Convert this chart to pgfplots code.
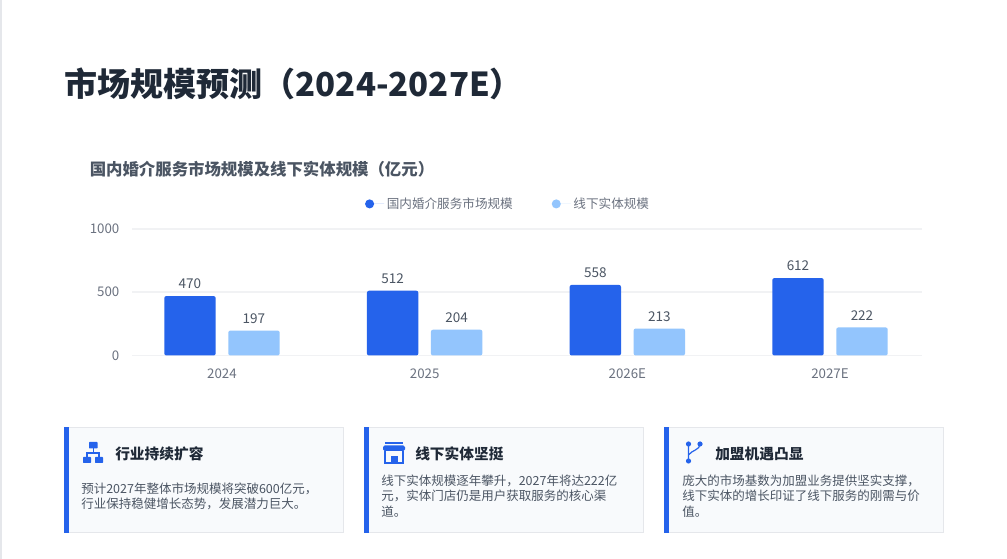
\documentclass[border=0pt]{standalone}
\usepackage{pgfplots}
\usepackage{pgfplotstable}
\pgfplotsset{compat=1.18}
\usepackage{fontspec}
\setmainfont{Noto Sans CJK SC}
\definecolor{blueA}{HTML}{2563EB}
\definecolor{blueB}{HTML}{93C5FD}
\definecolor{gridc}{HTML}{F1F2F4}
\definecolor{cardb}{HTML}{E5E7EB}
\definecolor{cardf}{HTML}{F8FAFC}
\definecolor{ink}{HTML}{1F2937}
\definecolor{mid}{HTML}{4B5563}
\definecolor{soft}{HTML}{6B7280}
\newcommand\sz[1]{\fontsize{\fpeval{#1*0.75}pt}{\fpeval{#1*0.9}pt}\selectfont}
\pgfplotstableread{
x total
0 470
1 512
2 558
3 612
}\markettable
\pgfplotstableread{
x offline
0 197
1 204
2 213
3 222
}\offlinetable
\begin{document}
\begin{tikzpicture}
\begin{scope}[x=0.75pt,y=-0.75pt]
\path[use as bounding box,fill=white] (0,0) rectangle (1007,559);
\fill[cardb] (0,0) rectangle (1.5,559);
\node[anchor=base west,inner sep=0,text=ink] at (64.5,97) {\sz{33}\bfseries 市场规模预测（2024-2027E）};
\node[anchor=base west,inner sep=0,text=mid] at (89.5,175.5) {\sz{16.4}\bfseries 国内婚介服务市场规模及线下实体规模（亿元）};
\end{scope}
\begin{axis}[
  at={(99pt,-266.625pt)},anchor=south west,
  scale only axis,width=592.5pt,height=94.9pt,
  xmin=-0.444,xmax=3.454,ymin=0,ymax=1000,
  clip=false,
  axis line style={draw=none},
  major tick length=0pt,
  ymajorgrids,
  grid style={gridc,line width=1.1pt},
  xtick={0,1,2,3},
  xticklabels={2024,2025,2026E,2027E},
  ytick={0,500,1000},
  tick label style={text=soft,font=\sz{13.3}},
  /pgf/number format/assume math mode=true,
  /pgf/number format/fixed,
  /pgf/number format/1000 sep={},
  xticklabel style={yshift=-6.5pt},
  yticklabel style={xshift=-6pt},
  legend columns=2,
  legend style={at={(0.2947,1.198)},anchor=west,draw=none,fill=none,inner sep=0pt,
    font=\sz{12.6},text=soft,
    /tikz/every even column/.style={column sep=27.2pt},
    cells={anchor=west}},
  legend image code/.code={\fill[#1,draw=none] (0pt,0pt) circle (3.4pt);\path (0pt,0pt) -- (10.9pt,0pt);},
]
\addplot[ybar,bar width=38.6pt,bar shift=-24pt,fill=blueA,draw=none,rounded corners=1.6pt,
  nodes near coords,
  every node near coord/.append style={font=\sz{13.5},text=mid,xshift=-24pt,yshift=1.7pt,rounded corners=0pt,
    /pgf/number format/assume math mode=true}] table[x=x,y=total]{\markettable};
\addlegendentry{国内婚介服务市场规模}
\addplot[ybar,bar width=38.6pt,bar shift=24pt,fill=blueB,draw=none,rounded corners=1.6pt,
  nodes near coords,
  every node near coord/.append style={font=\sz{13.5},text=mid,xshift=24pt,yshift=1.7pt,rounded corners=0pt,
    /pgf/number format/assume math mode=true}] table[x=x,y=offline]{\offlinetable};
\addlegendentry{线下实体规模}
\end{axis}
\begin{scope}[x=0.75pt,y=-0.75pt]
% cards
\foreach \cx in {64,364,664}{
  \filldraw[fill=cardf,draw=cardb,line width=0.75pt] (\cx,427.5) rectangle (\cx+279.5,532.5);
  \fill[blueA] (\cx,427) rectangle (\cx+4.5,533);
}
% card 1
\fill[blueA,rounded corners=0.5pt] (89,442) rectangle (97.5,448.5);
\fill[blueA,rounded corners=0.5pt] (83,457) rectangle (91,463);
\fill[blueA,rounded corners=0.5pt] (95,457) rectangle (103,463);
\draw[blueA,line width=0.9pt] (93.2,448) -- (93.2,453) (87,457) -- (87,453) -- (99,453) -- (99,457);
\node[anchor=base west,inner sep=0,text=ink] at (115,459.5) {\sz{14.7}\bfseries 行业持续扩容};
\node[anchor=base west,inner sep=0,text=mid] at (81,493.5) {\sz{12.5}预计2027年整体市场规模将突破600亿元，};
\node[anchor=base west,inner sep=0,text=mid] at (81,508.5) {\sz{12.5}行业保持稳健增长态势，发展潜力巨大。};
% card 2
\draw[blueA,line width=0.9pt,rounded corners=1pt] (385,443) -- (403,443);
\fill[blueA,rounded corners=1.2pt] (383,445.5) rectangle (405,451);
\draw[blueA,line width=0.9pt] (385,451) -- (385,463) -- (403,463) -- (403,451);
\fill[blueA] (391,456) rectangle (397.5,463);
\node[anchor=base west,inner sep=0,text=ink] at (415,459.5) {\sz{14.7}\bfseries 线下实体坚挺};
\node[anchor=base west,inner sep=0,text=mid] at (381,486) {\sz{12.5}线下实体规模逐年攀升，2027年将达222亿};
\node[anchor=base west,inner sep=0,text=mid] at (381,501) {\sz{12.5}元，实体门店仍是用户获取服务的核心渠};
\node[anchor=base west,inner sep=0,text=mid] at (381,516) {\sz{12.5}道。};
% card 3
\draw[blueA,line width=0.9pt] (688.5,444) -- (688.5,461) (700,444) .. controls (700,450) and (692,450) .. (688.5,455);
\fill[blueA] (688.5,444) circle (2.6) (700,444) circle (2.6) (688.5,461) circle (2.6);
\node[anchor=base west,inner sep=0,text=ink] at (715,459.5) {\sz{14.7}\bfseries 加盟机遇凸显};
\node[anchor=base west,inner sep=0,text=mid] at (682,486) {\sz{12.5}庞大的市场基数为加盟业务提供坚实支撑，};
\node[anchor=base west,inner sep=0,text=mid] at (682,501) {\sz{12.5}线下实体的增长印证了线下服务的刚需与价};
\node[anchor=base west,inner sep=0,text=mid] at (682,516) {\sz{12.5}值。};
\end{scope}
\end{tikzpicture}
\end{document}
